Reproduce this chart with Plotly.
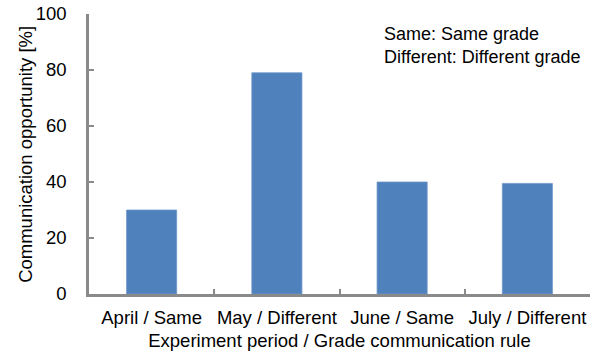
import plotly.graph_objects as go

# Communication opportunity per experiment period
categories = ["April / Same", "May / Different", "June / Same", "July / Different"]
opportunity = [30, 79, 40, 39.5]
y_ticks = [0, 20, 40, 60, 80, 100]
legend_lines = ["Same: Same grade", "Different: Different grade"]
y_title = "Communication opportunity [%]"

FONT = "Liberation Sans, Arial, sans-serif"
AXIS_GREY = "#8a8a8a"
FS = 18.5

fig = go.Figure(
    go.Bar(
        x=categories,
        y=opportunity,
        marker=dict(color="#4f81bd", line=dict(color="#6f97c9", width=0.8)),
    )
)

fig.update_layout(
    width=598,
    height=356,
    margin=dict(l=89, r=8, t=14, b=62),
    paper_bgcolor="white",
    plot_bgcolor="white",
    bargap=0.6,
    showlegend=False,
    font=dict(family=FONT, size=FS, color="black"),
)

fig.update_xaxes(
    type="category",
    automargin=False,
    tickangle=0,
    showline=True,
    linecolor=AXIS_GREY,
    linewidth=2.5,
    ticks="inside",
    tickson="boundaries",
    ticklen=5,
    tickwidth=2,
    tickcolor=AXIS_GREY,
    showgrid=False,
    ticklabelstandoff=5,
    tickfont=dict(size=FS),
    title=dict(text="Experiment period / Grade communication rule",
               font=dict(size=FS), standoff=8),
)

fig.update_yaxes(
    automargin=False,
    range=[0, 100],
    tickvals=y_ticks,
    showline=True,
    linecolor=AXIS_GREY,
    linewidth=2.5,
    ticks="inside",
    ticklen=5,
    tickwidth=2,
    tickcolor=AXIS_GREY,
    showgrid=False,
    zeroline=False,
    ticklabelstandoff=16,
    tickfont=dict(size=FS),
)

# vertical axis title placed as rotated text left of the tick labels
fig.add_annotation(
    xref="paper", yref="paper",
    x=-0.128, y=0.5,
    xanchor="center", yanchor="middle",
    textangle=-90,
    showarrow=False,
    text=y_title,
    font=dict(size=FS, color="black"),
)

fig.add_annotation(
    xref="paper", yref="paper",
    x=0.584, y=0.971,
    xanchor="left", yanchor="top",
    align="left",
    showarrow=False,
    text="<br>".join(legend_lines),
    font=dict(size=18, color="black"),
)

fig.write_html("out.html")
